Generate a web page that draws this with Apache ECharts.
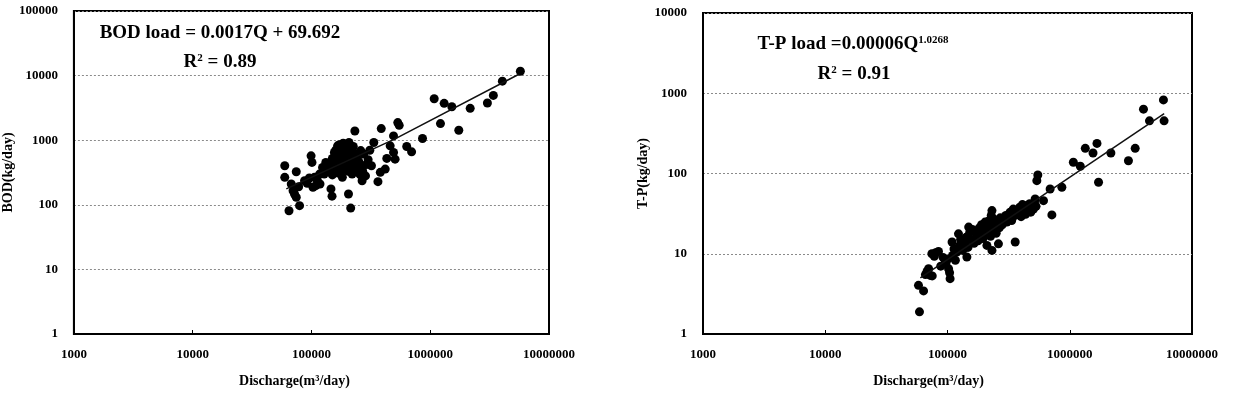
<!DOCTYPE html>
<html>
<head>
<meta charset="utf-8">
<script src="https://cdn.jsdelivr.net/npm/echarts@6/dist/echarts.min.js"></script>
<style>
html,body{margin:0;padding:0;background:#fff;}
#chart{width:1233px;height:393px;}
</style>
</head>
<body>
<div id="chart"></div>
<script>
// ---------- data ----------
const xTickLabels = ['1000', '10000', '100000', '1000000', '10000000'];
const bodTickLabels = ['1', '10', '100', '1000', '10000', '100000'];
const tpTickLabels = ['1', '10', '100', '1000', '10000'];

// BOD chart: discharge (m3/day) and BOD load (kg/day)
const bodQ = [59600, 59600, 74500, 67600, 72000, 74500, 79400, 64700, 87500, 99300,
  101000, 106000, 109000, 103000, 117000, 124000, 132000, 137000, 146000, 149000,
  156000, 166000, 194000, 207000, 182000, 205000, 214000, 232000, 228000, 243000,
  276000, 267000, 320000, 335000, 363000, 380000, 387000, 418000, 431000, 460000,
  491000, 533000, 506000, 548000, 491000, 634000, 697000, 861000, 1080000, 1310000,
  1520000, 2170000, 3030000, 3400000, 4050000, 5740000, 1220000, 1740000,
  70000, 78000, 92000, 96000, 112000, 118000, 128000, 140000, 145000, 150000,
  160000, 165000, 170000, 172000, 175000, 178000, 180000, 182000, 185000, 186000,
  188000, 190000, 192000, 195000, 196000, 198000, 200000, 202000, 204000, 206000,
  208000, 210000, 212000, 215000, 218000, 220000, 222000, 225000, 228000, 232000,
  236000, 240000, 245000, 250000, 255000, 258000, 150000, 155000, 162000, 168000,
  270000, 285000, 300000, 310000, 290000, 260000];
const bodLoad = [402, 266, 325, 210, 147, 131, 97, 81, 236, 573,
  453, 266, 198, 187, 299, 379, 453, 336, 176, 136,
  647, 817, 573, 922, 266, 147, 89, 1390, 357, 453,
  609, 236, 402, 922, 228, 318, 1514, 357, 522, 817,
  647, 1875, 509, 1700, 1164, 800, 661, 1062, 4390, 3720,
  3300, 3110, 3760, 4940, 8200, 11700, 1808, 1426,
  165, 190, 215, 260, 240, 210, 300, 420, 360, 290,
  700, 560, 480, 850, 620, 400, 750, 520, 900, 350,
  660, 440, 800, 600, 380, 700, 500, 860, 330, 640,
  450, 760, 560, 400, 680, 300, 520, 800, 450, 620,
  380, 540, 320, 470, 400, 290, 520, 450, 380, 310,
  330, 280, 500, 700, 420, 690];
const bodTrendQ = [61400, 501000, 5530000];
const bodTrendLoad = [176, 1037, 10400];

// T-P chart: discharge (m3/day) and T-P load (kg/day)
const tpQ = [59000, 57900, 63700, 70000, 72300, 74500, 78000, 84400, 80000, 95700,
  102000, 105000, 109000, 119000, 123000, 144000, 149000, 174000, 203000, 210000,
  231000, 231000, 261000, 306000, 358000, 369000, 445000, 521000, 538000, 548000,
  610000, 691000, 714000, 862000, 1070000, 1220000, 1340000, 1550000, 1670000, 1720000,
  2170000, 3020000, 3430000, 4010000, 4490000, 5840000, 5910000,
  66000, 68000, 75000, 88000, 92000, 97000, 100000, 104000, 110000, 113000,
  116000, 125000, 128000, 133000, 138000, 142000, 147000, 152000, 156000, 160000,
  165000, 170000, 178000, 182000, 186000, 190000, 195000, 200000, 205000, 215000,
  220000, 225000, 228000, 235000, 240000, 245000, 250000, 255000, 265000, 270000,
  280000, 290000, 300000, 315000, 325000, 335000, 345000, 355000, 380000, 390000,
  400000, 410000, 425000, 435000, 455000, 470000, 480000, 495000, 505000, 515000, 530000];
const tpLoad = [1.89, 4.04, 3.44, 6.5, 5.37, 10, 9.3, 10.7, 10.3, 8.26,
  6.51, 4.89, 14, 10.5, 17.7, 9.1, 21.5, 16.9, 24.8, 12.7,
  34.5, 11, 13.3, 24.8, 14, 34.5, 39.8, 48.2, 81.4, 95.8,
  45.9, 64.2, 30.5, 67.4, 138, 123, 206, 180, 237, 77.8,
  180, 144, 206, 633, 453, 826, 453,
  5.5, 6.0, 5.3, 7.0, 9.0, 7.5, 8.5, 5.8, 9.5, 11.5,
  8.3, 12.5, 15, 11, 13.5, 16, 12, 18.5, 15, 20,
  13.5, 19, 14.5, 21, 17.5, 23, 15.5, 20, 18, 22,
  26, 16.5, 30, 20, 27, 22.5, 18, 25, 21, 28,
  23, 26, 30, 28, 33, 26, 36, 30, 32, 38,
  29, 41, 35, 31, 37, 42, 33, 40, 36, 44, 39];
const tpTrendQ = [60000, 5920000];
const tpTrendLoad = [4.99, 559];

// ---------- chart ----------
const zip = (a, b) => a.map((v, i) => [v, b[i]]);
const serif = 'Liberation Serif, Times New Roman, serif';
const tickFromLog = (labels, offset) => (v) => {
  const k = Math.round(Math.log10(v)) - offset;
  return labels[k] !== undefined ? labels[k] : '';
};
const labelStyle = { fontFamily: serif, fontWeight: 'bold', fontSize: 13, color: '#000' };
const nameStyle = { fontFamily: serif, fontWeight: 'bold', fontSize: 14, color: '#000' };

function xAxisCfg(gridIndex, pad) {
  return {
    type: 'log', logBase: 10, gridIndex, min: 1000, max: 10000000,
    name: 'Discharge(m³/day)', nameLocation: 'middle', nameGap: 40,
    nameTextStyle: Object.assign({ padding: [0, pad, 0, 0] }, nameStyle),
    axisLine: { show: true, lineStyle: { color: '#000', width: 2 } },
    axisTick: { show: true, inside: true, length: 4, lineStyle: { color: '#000' } },
    minorTick: { show: false },
    splitLine: { show: false },
    axisLabel: Object.assign({ margin: 14, formatter: tickFromLog(xTickLabels, 3) }, labelStyle)
  };
}
function yAxisCfg(gridIndex, max, labels, name, gap) {
  return {
    type: 'log', logBase: 10, gridIndex, min: 1, max,
    name, nameLocation: 'middle', nameGap: gap, nameRotate: 90,
    nameTextStyle: nameStyle,
    axisLine: { show: true, lineStyle: { color: '#000', width: 2 } },
    axisTick: { show: false },
    splitLine: { show: true, lineStyle: { color: '#8a8a8a', width: 1, type: [2, 2] } },
    axisLabel: Object.assign({ margin: 16, formatter: tickFromLog(labels, 0) }, labelStyle)
  };
}

const eqStyle = {
  rich: {
    m: { fontFamily: serif, fontWeight: 'bold', fontSize: 19, color: '#000' },
    s: { fontFamily: serif, fontWeight: 'bold', fontSize: 11, color: '#000', verticalAlign: 'top' }
  }
};
function eqText(text, x, y) {
  return {
    type: 'text', x, y, z: 100,
    style: Object.assign({ text, align: 'center', verticalAlign: 'middle' }, eqStyle)
  };
}

const dotStyle = { color: '#000', opacity: 1 };

const chart = echarts.init(document.getElementById('chart'), null, { renderer: 'canvas' });
chart.setOption({
  backgroundColor: '#fff',
  animation: false,
  grid: [
    { left: 68, top: 11, width: 481, height: 325, show: true, borderColor: '#000', borderWidth: 2, backgroundColor: 'transparent' },
    { left: 703, top: 13, width: 489, height: 322, show: true, borderColor: '#000', borderWidth: 2, backgroundColor: 'transparent' }
  ],
  xAxis: [xAxisCfg(0, 34), xAxisCfg(1, 38)],
  yAxis: [
    yAxisCfg(0, 100000, bodTickLabels, 'BOD(kg/day)', 55),
    yAxisCfg(1, 10000, tpTickLabels, 'T-P(kg/day)', 49)
  ],
  series: [
    { type: 'scatter', xAxisIndex: 0, yAxisIndex: 0, data: zip(bodQ, bodLoad), symbolSize: 9, itemStyle: dotStyle },
    { type: 'line', xAxisIndex: 0, yAxisIndex: 0, data: zip(bodTrendQ, bodTrendLoad), showSymbol: false, smooth: false, lineStyle: { color: '#111', width: 1.5 } },
    { type: 'scatter', xAxisIndex: 1, yAxisIndex: 1, data: zip(tpQ, tpLoad), symbolSize: 9, itemStyle: dotStyle },
    { type: 'line', xAxisIndex: 1, yAxisIndex: 1, data: zip(tpTrendQ, tpTrendLoad), showSymbol: false, lineStyle: { color: '#111', width: 1.5 } }
  ],
  graphic: [
    eqText('{m|BOD load = 0.0017Q + 69.692}', 220, 33),
    eqText('{m|R}{s|2}{m| = 0.89}', 220, 62),
    eqText('{m|T-P load =0.00006Q}{s|1.0268}', 853, 44),
    eqText('{m|R}{s|2}{m| = 0.91}', 854, 74)
  ]
});
</script>
</body>
</html>
